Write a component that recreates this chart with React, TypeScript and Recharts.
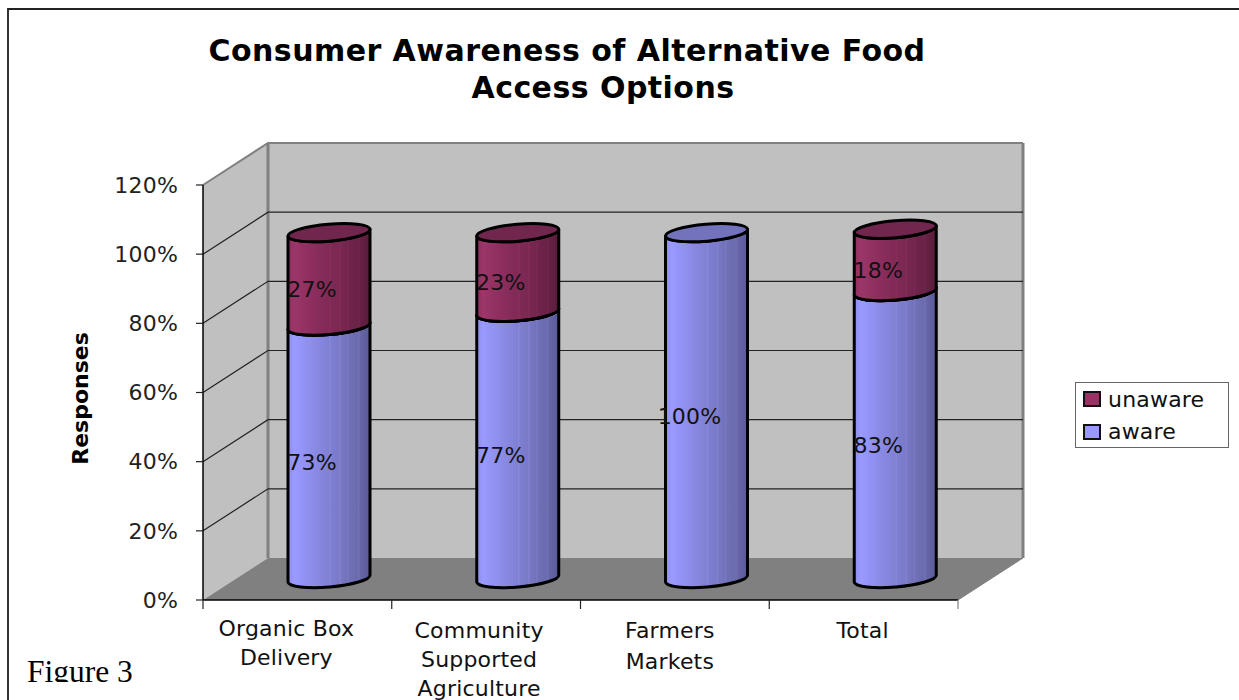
import React from 'react';
import { BarChart, Bar, XAxis, YAxis, CartesianGrid, Legend, LabelList } from 'recharts';

// Survey shares per food access option
const categories = ['Organic Box Delivery', 'Community Supported Agriculture', 'Farmers Markets', 'Total'];
const categoryLines = [['Organic Box', 'Delivery'], ['Community', 'Supported', 'Agriculture'], ['Farmers', 'Markets'], ['Total']];
const awareValues = [0.73, 0.77, 1.0, 0.83];
const unawareValues = [0.27, 0.23, 0, 0.18];
const yTicks = [0, 0.2, 0.4, 0.6, 0.8, 1.0, 1.2];

const rows = categories.map((name, i) => ({ name, aware: awareValues[i], unaware: unawareValues[i] }));

// Layout of the pseudo-3D box
const W = 1239;
const H = 700;
const LEFT = 203;
const RIGHT = 958;
const TOP = 185;
const BOTTOM = 600;
const DEPTH_X = 65;
const DEPTH_Y = 42;
const TILT = 3.5;
const RY = 8.5;
const FONT = '"DejaVu Sans", Verdana, sans-serif';
const TEXT_SIZE = 22;
const TEXT_SPACING = 0.2;
const tickNudge = [-11, -7, -5, -1];
const tickFirstLine = [36, 38, 38, 38];
const tickLineStep = [29, 29, 31, 30];

const pct = (v: number) => `${Math.round(v * 100)}%`;

const blueStops: [number, string][] = [
  [0, '#8f8ff0'], [0.08, '#9a9aff'], [0.2, '#9292f4'], [0.3, '#8c8ce8'], [0.4, '#8686de'], [0.5, '#8080d2'],
  [0.51, '#8a8adc'], [0.53, '#7e7ed0'], [0.62, '#7a7ac8'], [0.63, '#8383d2'], [0.65, '#7878c4'], [0.72, '#7272ba'],
  [0.73, '#7a7ac4'], [0.75, '#7070b6'], [0.85, '#6a6aae'], [0.86, '#7272b6'], [0.88, '#6666a8'], [1, '#5a5a98'],
];
const redStops: [number, string][] = [
  [0, '#8e2f5e'], [0.08, '#9c3669'], [0.2, '#933163'], [0.3, '#8d2e5e'], [0.4, '#862c5a'], [0.5, '#812a56'],
  [0.51, '#8a2e5c'], [0.53, '#7f2955'], [0.62, '#7a2852'], [0.63, '#842c58'], [0.65, '#782750'], [0.72, '#72254d'],
  [0.73, '#7b2953'], [0.75, '#70244b'], [0.85, '#692246'], [0.86, '#72264c'], [0.88, '#662144'], [1, '#581c3b'],
];

function Gradient({ id, stops }: { id: string; stops: [number, string][] }) {
  return (
    <linearGradient id={id} x1="0" y1="0" x2="1" y2="0">
      {stops.map(([o, c]) => <stop key={o} offset={o} stopColor={c} />)}
    </linearGradient>
  );
}

// Walls and floor of the box, in a layer beneath the chart
function Walls() {
  const bx0 = LEFT + DEPTH_X;
  const bx1 = RIGHT + DEPTH_X;
  const by0 = TOP - DEPTH_Y;
  const by1 = BOTTOM - DEPTH_Y;
  return (
    <svg width={W} height={H} style={{ position: 'absolute', left: 0, top: 0 }}>
      <polygon points={`${LEFT},${TOP} ${bx0},${by0} ${bx0},${by1} ${LEFT},${BOTTOM}`} fill="#c0c0c0" />
      <rect x={bx0} y={by0} width={bx1 - bx0} height={by1 - by0} fill="#c0c0c0" />
      <polygon points={`${LEFT},${BOTTOM} ${bx0},${by1} ${bx1},${by1} ${RIGHT},${BOTTOM}`} fill="#808080" />
      <path d={`M${LEFT},${TOP} L${bx0},${by0} L${bx1},${by0}`} fill="none" stroke="#808080" strokeWidth={2} />
      <path d={`M${bx0},${by0} V${by1} M${bx1},${by0} V${by1}`} fill="none" stroke="#808080" strokeWidth={3} />
      <path d={`M${RIGHT},${BOTTOM} L${bx1},${by1}`} fill="none" stroke="#808080" strokeWidth={1} />
    </svg>
  );
}

// A grid line runs along the side wall and then across the back wall
function GridLine(p: any) {
  const y = p.y1;
  if (Math.abs(y - TOP) < 1 || Math.abs(y - BOTTOM) < 1) return <g key={p.key} />;
  return (
    <path
      key={p.key}
      d={`M${LEFT},${y} L${LEFT + DEPTH_X},${y - DEPTH_Y} H${RIGHT + DEPTH_X}`}
      fill="none"
      stroke="#222"
      strokeWidth={1.2}
    />
  );
}

// Tilted cylinder standing at mid depth of the box
function Cylinder(p: any) {
  const { x, y, width, height, gradient, capFill } = p;
  if (!height || height <= 0) return <g />;
  const x0 = x + DEPTH_X / 2 - 0.5;
  const x1 = x0 + width;
  const yt = y - DEPTH_Y / 2 - 0.5;
  const yb = yt + height;
  const rx = Math.hypot(width / 2, TILT);
  const rot = (-Math.atan2(TILT, width / 2) * 180) / Math.PI;
  const body =
    `M${x0},${yt + TILT} L${x0},${yb + TILT} A${rx},${RY} ${rot} 0 0 ${x1},${yb - TILT} ` +
    `L${x1},${yt - TILT} A${rx},${RY} ${rot} 0 1 ${x0},${yt + TILT} Z`;
  return (
    <g>
      <path d={body} fill={`url(#${gradient})`} stroke="#000" strokeWidth={3} strokeLinejoin="round" />
      <ellipse
        cx={(x0 + x1) / 2}
        cy={yt}
        rx={rx}
        ry={RY}
        transform={`rotate(${rot} ${(x0 + x1) / 2} ${yt})`}
        fill={capFill}
        stroke="#000"
        strokeWidth={3}
      />
    </g>
  );
}

function ValueLabel(p: any) {
  const { x, y, width, height, value } = p;
  if (!value) return null;
  return (
    <text
      x={x + width / 2 + 15}
      y={y + height / 2 - 11}
      textAnchor="middle"
      dominantBaseline="central"
      fontFamily={FONT}
      fontSize={TEXT_SIZE}
      letterSpacing={TEXT_SPACING}
      fill="#111"
    >
      {pct(value)}
    </text>
  );
}

// Category label with boundary tick marks between the bands
function CategoryTick(p: any) {
  const { x, index } = p;
  const half = (RIGHT - LEFT) / categories.length / 2;
  const lines = categoryLines[index] || [];
  return (
    <g>
      <line x1={x - half} x2={x - half} y1={BOTTOM} y2={BOTTOM + 9} stroke="#222" strokeWidth={1.2} />
      {index === categories.length - 1 && (
        <line x1={x + half} x2={x + half} y1={BOTTOM} y2={BOTTOM + 9} stroke="#808080" strokeWidth={1.2} />
      )}
      <text textAnchor="middle" fontFamily={FONT} fontSize={TEXT_SIZE} letterSpacing={TEXT_SPACING} fill="#111">
        {lines.map((line: string, i: number) => (
          <tspan key={line} x={x + tickNudge[index]} y={BOTTOM + tickFirstLine[index] + i * tickLineStep[index]}>{line}</tspan>
        ))}
      </text>
    </g>
  );
}

function LegendBox(p: any) {
  const items = [...(p.payload || [])].reverse();
  return (
    <div style={{ width: 154, height: 66, boxSizing: 'border-box', border: '1.5px solid #666', background: '#fff', paddingLeft: 7, fontFamily: FONT, fontSize: TEXT_SIZE, letterSpacing: TEXT_SPACING, color: '#111' }}>
      {items.map((item: any) => (
        <div key={item.value} style={{ display: 'flex', alignItems: 'center', height: 32.5 }}>
          <span style={{ width: 18, height: 16, boxSizing: 'border-box', border: '2.5px solid #111', background: item.color, marginRight: 7, flex: 'none' }} />
          {item.value}
        </div>
      ))}
    </div>
  );
}

export default function App() {
  return (
    <div style={{ position: 'absolute', left: 0, top: 0, width: W, height: H, background: '#fff', overflow: 'hidden' }}>
      <div style={{ position: 'absolute', left: 7, top: 8, width: W, height: H, borderTop: '2px solid #222', borderLeft: '2px solid #333' }} />
      <Walls />
      <BarChart
        width={W}
        height={H}
        data={rows}
        margin={{ top: TOP, right: W - RIGHT, bottom: 0, left: 8 }}
        barSize={82}
        style={{ position: 'absolute', left: 0, top: 0 }}
      >
        <defs>
          <Gradient id="awareFill" stops={blueStops} />
          <Gradient id="unawareFill" stops={redStops} />
          <clipPath id="captionClip"><rect x={20} y={640} width={130} height={42} /></clipPath>
        </defs>
        <CartesianGrid vertical={false} horizontal={GridLine} />
        <XAxis dataKey="name" height={H - BOTTOM} interval={0} axisLine={{ stroke: '#000', strokeWidth: 1.5 }} tickLine={false} tick={CategoryTick} />
        <YAxis
          domain={[0, 1.2]}
          ticks={yTicks}
          width={LEFT - 8}
          tickFormatter={pct}
          axisLine={{ stroke: '#000', strokeWidth: 1.5 }}
          tickLine={{ stroke: '#222', strokeWidth: 1.2 }}
          tickSize={7}
          tickMargin={18}
          tick={{ fontFamily: FONT, fontSize: TEXT_SIZE, letterSpacing: TEXT_SPACING, fill: '#222' }}
          label={{ value: 'Responses', angle: -90, position: 'insideLeft', offset: 0, dx: 72, dy: 6, style: { fontFamily: FONT, fontSize: 22, fontWeight: 'bold', fill: '#000', textAnchor: 'middle' } }}
        />
        <Bar dataKey="aware" name="aware" stackId="a" fill="#9999ff" isAnimationActive={false} shape={(p: any) => <Cylinder {...p} gradient="awareFill" capFill="#7272bd" />}>
          <LabelList dataKey="aware" content={ValueLabel} />
        </Bar>
        <Bar dataKey="unaware" name="unaware" stackId="a" fill="#993366" isAnimationActive={false} shape={(p: any) => <Cylinder {...p} gradient="unawareFill" capFill="#70264d" />}>
          <LabelList dataKey="unaware" content={ValueLabel} />
        </Bar>
        <Legend layout="vertical" align="center" verticalAlign="middle" content={LegendBox} wrapperStyle={{ position: 'absolute', left: 1075, top: 382, width: 154, height: 66 }} />
        <text x={567} y={61} textAnchor="middle" fontFamily={FONT} fontSize={30} letterSpacing={0.45} fontWeight="bold" fill="#000">Consumer Awareness of Alternative Food</text>
        <text x={603} y={98} textAnchor="middle" fontFamily={FONT} fontSize={30} letterSpacing={0.45} fontWeight="bold" fill="#000">Access Options</text>
        <text x={27} y={682} clipPath="url(#captionClip)" fontFamily='"Liberation Serif", serif' fontSize={31.5} fill="#000">Figure 3</text>
      </BarChart>
    </div>
  );
}
